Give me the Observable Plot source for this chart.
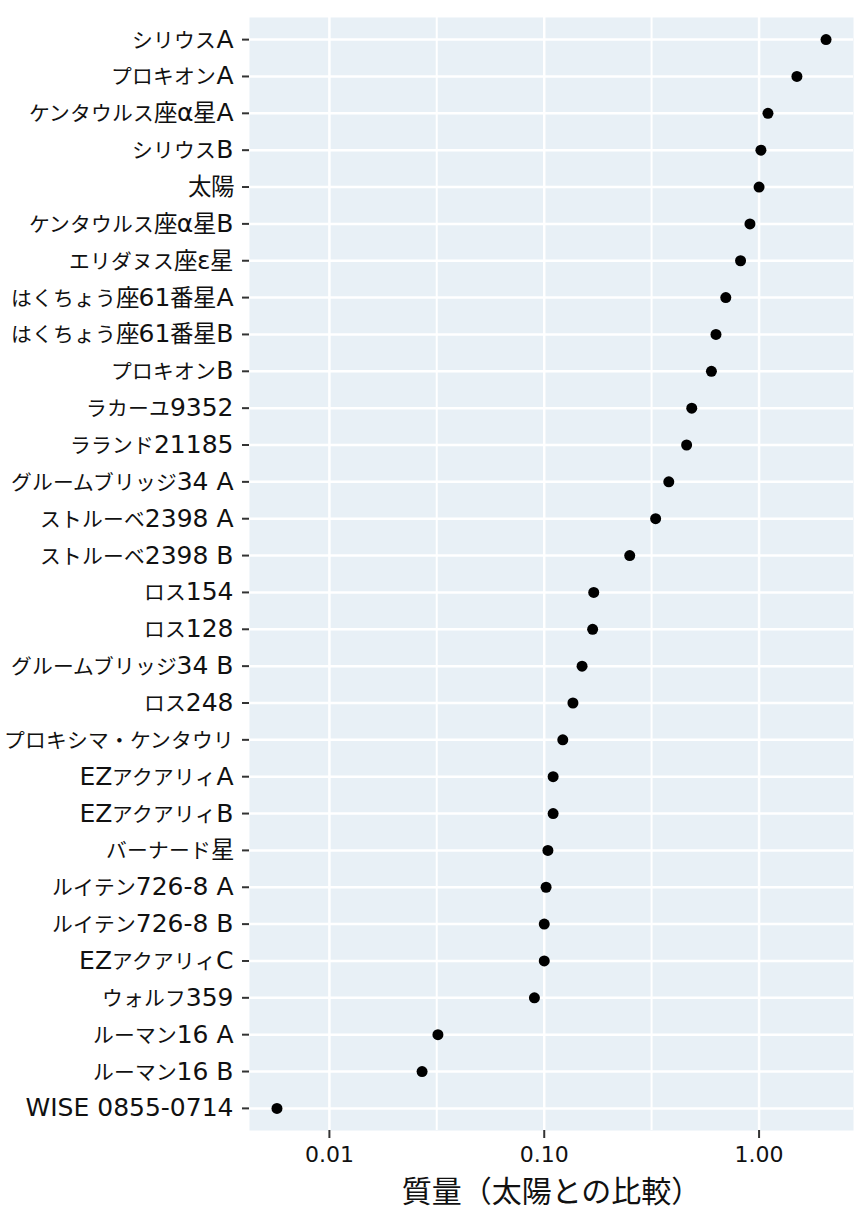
<!DOCTYPE html>
<html>
<head>
<meta charset="utf-8">
<script src="https://cdn.jsdelivr.net/npm/d3@7"></script>
<script src="https://cdn.jsdelivr.net/npm/@observablehq/plot@0.6"></script>
<style>
  html, body { margin: 0; padding: 0; background: #fff; }
  @font-face {
    font-family: "JPKana";
    src: local("Noto Sans CJK JP"), local("NotoSansCJKjp-Regular"), local("Noto Sans CJK JP Regular");
    unicode-range: U+3040-30FF;
    size-adjust: 83%;
  }
  @font-face {
    font-family: "JPKanji";
    src: local("Noto Sans CJK JP"), local("NotoSansCJKjp-Regular"), local("Noto Sans CJK JP Regular");
    size-adjust: 94%;
  }
</style>
</head>
<body>
<div id="chart"></div>
<script>
const stars = [
  "シリウスA", "プロキオンA", "ケンタウルス座α星A", "シリウスB", "太陽",
  "ケンタウルス座α星B", "エリダヌス座ε星", "はくちょう座61番星A", "はくちょう座61番星B", "プロキオンB",
  "ラカーユ9352", "ラランド21185", "グルームブリッジ34 A", "ストルーベ2398 A", "ストルーベ2398 B",
  "ロス154", "ロス128", "グルームブリッジ34 B", "ロス248", "プロキシマ・ケンタウリ",
  "EZアクアリィA", "EZアクアリィB", "バーナード星", "ルイテン726-8 A", "ルイテン726-8 B",
  "EZアクアリィC", "ウォルフ359", "ルーマン16 A", "ルーマン16 B", "WISE 0855-0714"
];
const masses = [
  2.05, 1.50, 1.10, 1.02, 1.00,
  0.907, 0.82, 0.70, 0.63, 0.60,
  0.486, 0.46, 0.38, 0.33, 0.25,
  0.17, 0.168, 0.15, 0.136, 0.122,
  0.11, 0.11, 0.104, 0.102, 0.10,
  0.10, 0.09, 0.032, 0.027, 0.0057
];
const majorTicks = [0.01, 0.1, 1];
const minorTicks = [0.0316, 0.316];
const tickLabels = ["0.01", "0.10", "1.00"];
const xTitle = "質量（太陽との比較）";

const data = stars.map((name, i) => ({name, mass: masses[i]}));

// ggplot-style 5% expansion on the log scale
const lo = Math.log10(d3.min(masses)), hi = Math.log10(d3.max(masses));
const pad = (hi - lo) * 0.05;
const xDomain = [Math.pow(10, lo - pad), Math.pow(10, hi + pad)];

const labelFont = "'DejaVu Sans', 'JPKana', 'JPKanji', 'Noto Sans CJK JP', sans-serif";

const chart = Plot.plot({
  width: 864,
  height: 1210,
  marginLeft: 249,
  marginRight: 11,
  marginTop: 17,
  marginBottom: 80,
  style: {fontFamily: labelFont, color: "#111", background: "#fff"},
  x: {type: "log", domain: xDomain},
  y: {type: "point", domain: stars, padding: 0.6, round: false},
  marks: [
    Plot.frame({fill: "#e8f0f6", stroke: null}),
    Plot.ruleX(minorTicks, {stroke: "#fff", strokeWidth: 2}),
    Plot.ruleX(majorTicks, {stroke: "#fff", strokeWidth: 2.5}),
    Plot.ruleY(stars, {y: d => d, stroke: "#fff", strokeWidth: 2.5}),
    Plot.dot(data, {x: "mass", y: "name", r: 5.5, fill: "#000", stroke: null}),
    Plot.axisY({tickSize: 7, tickPadding: 9, fontSize: 25, strokeWidth: 2, stroke: "#333", label: null}),
    Plot.axisX({ticks: majorTicks, tickFormat: d => tickLabels[majorTicks.indexOf(d)], tickSize: 8, tickPadding: 8, fontSize: 22, strokeWidth: 2, stroke: "#333", label: null}),
    Plot.text([xTitle], {frameAnchor: "bottom", lineAnchor: "middle", dy: 62, fontSize: 30, fill: "#111", textAnchor: "middle", fontFamily: "'Noto Sans CJK JP', sans-serif"})
  ]
});
document.getElementById("chart").appendChild(chart);
</script>
</body>
</html>
